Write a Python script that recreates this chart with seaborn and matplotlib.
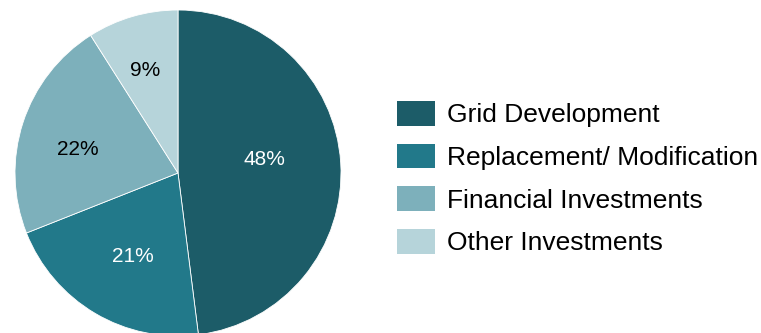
import matplotlib
matplotlib.use("Agg")
import numpy as np
import matplotlib.pyplot as plt
from matplotlib.patches import Patch
import seaborn as sns

categories = ["Grid Development", "Replacement/ Modification",
              "Financial Investments", "Other Investments"]
shares = [48, 21, 22, 9]
hex_colors = ["#1c5c68", "#22798a", "#7db0bb", "#b6d4da"]
label_colors = ["white", "white", "black", "black"]

# label placement per wedge: radial distance and polar angle (degrees)
label_radius = [0.54, 0.58, 0.63, 0.66]
label_angle = [9.0, -118.5, 166.5, 108.0]

sns.set_theme(style="white")
plt.rcParams["font.family"] = ["Liberation Sans", "DejaVu Sans"]
plt.rcParams["text.color"] = "black"
palette = sns.color_palette(hex_colors)

W, H = 761, 333
fig = plt.figure(figsize=(W / 100, H / 100), dpi=100)
fig.patch.set_facecolor("white")

cx, cy, r = 178, 173, 163
ax = fig.add_axes([(cx - r) / W, (H - cy - r) / H, 2 * r / W, 2 * r / H])

wedges, texts, autotexts = ax.pie(
    shares, colors=palette, startangle=90, counterclock=False,
    autopct="%d%%", pctdistance=0.6,
    wedgeprops=dict(edgecolor="white", linewidth=0.6),
    textprops=dict(fontsize=15),
)
for t, c, rad, ang in zip(autotexts, label_colors, label_radius, label_angle):
    t.set_color(c)
    a = np.deg2rad(ang)
    t.set_position((rad * np.cos(a), rad * np.sin(a)))
ax.set_xlim(-1, 1)
ax.set_ylim(-1, 1)
ax.set_aspect("equal")
ax.axis("off")

handles = [Patch(facecolor=c, edgecolor="none") for c in palette]
fig.legend(handles, categories, loc="upper left",
           bbox_to_anchor=(397 / W, 1 - 101 / H), frameon=False,
           fontsize=19, handlelength=1.44, handleheight=1.06,
           handletextpad=0.45, labelspacing=0.62,
           borderpad=0, borderaxespad=0, labelcolor="black")

fig.savefig("out.png", dpi=100, facecolor="white")
